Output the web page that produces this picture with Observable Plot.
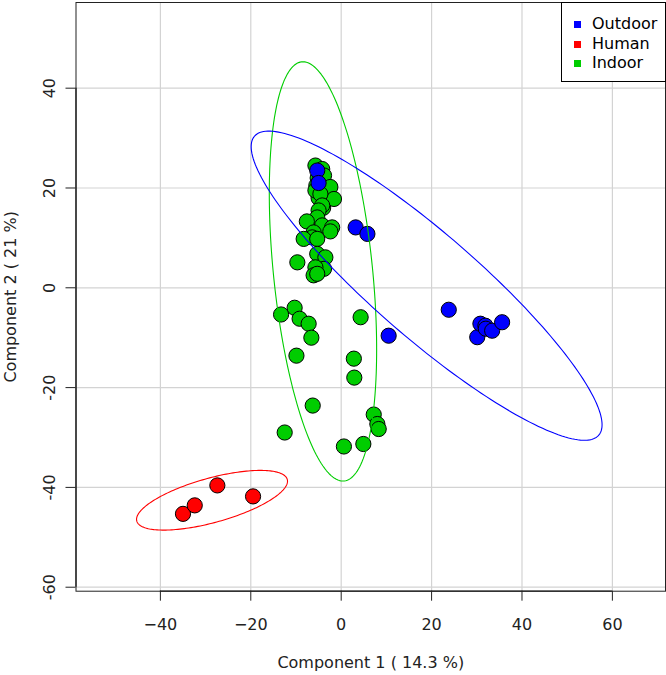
<!DOCTYPE html>
<html><head><meta charset="utf-8">
<script src="https://cdn.jsdelivr.net/npm/d3@7"></script>
<script src="https://cdn.jsdelivr.net/npm/@observablehq/plot@0.6"></script>
<style>
body{margin:0;background:#fff;font-family:"DejaVu Sans",sans-serif;}
#wrap{position:relative;width:666px;height:675px;}
#legend{position:absolute;left:561px;top:2px;width:105px;height:80px;border:1px solid #000;box-sizing:border-box;background:#fff;font-size:16px;color:#000;}
#legend .row{position:absolute;left:0;height:20px;line-height:20px;}
#legend .sw{position:absolute;left:12px;top:7px;width:7px;height:7px;}
#legend .lb{position:absolute;left:30px;top:0;white-space:nowrap;}
</style></head><body><div id="wrap"></div>
<script>
const groups = ["Outdoor", "Human", "Indoor"];
const groupColors = ["#0000FF", "#FF0000", "#00CD00"];

const outdoorX = [-5.3, -5.0, 3.2, 5.8, 10.5, 23.8, 30.1, 30.8, 31.9, 32.0, 33.4, 35.6];
const outdoorY = [23.5, 21.0, 12.1, 10.8, -9.6, -4.4, -9.9, -7.2, -7.6, -8.2, -8.6, -6.9];

const humanX = [-35.0, -32.4, -27.4, -19.5];
const humanY = [-45.3, -43.6, -39.6, -41.8];

const indoorX = [-5.2, -4.8, -5.5, -4.5, -5.0, -4.0,
  -5.7, -4.2, -3.8, -2.4, -1.6, -5.7, -4.6, -4.2, -5.0, -5.3, -7.6, -4.2, -2.0, -2.4, -6.1, -6.4, -8.3, -5.3, -5.3, -3.5, -9.7, -3.8, -5.7, -6.1, -5.3,
  -13.3, -10.3, -9.2, -7.2, -6.6, -9.9, 4.3, 2.8, 2.9, -6.3, 7.2, 8.0, 8.3, -12.5, 0.6, 4.9];
const indoorY = [22.0, 21.5, 20.5, 23.0, 18.0, 16.0,
  24.5, 23.8, 22.5, 20.2, 17.8, 19.5, 18.8, 16.5, 15.5, 14.1, 13.3, 12.5, 12.1, 11.3, 11.1, 10.1, 9.8, 9.8, 6.8, 6.1, 5.1, 3.8, 4.1, 2.5, 2.8,
  -5.35, -4.0, -6.2, -7.2, -10.0, -13.6, -5.9, -14.2, -18.0, -23.6, -25.4, -27.3, -28.3, -29.0, -31.8, -31.3];

const xTicks = [-40, -20, 0, 20, 40, 60];
const yTicks = [-60, -40, -20, 0, 20, 40];
const xDomain = [-58.67, 71.75];
const yDomain = [-60.8, 57.17];
const xTitle = "Component 1 ( 14.3 %)";
const yTitle = "Component 2 ( 21 %)";

const series = [
  {g: "Indoor", xs: indoorX, ys: indoorY},
  {g: "Outdoor", xs: outdoorX, ys: outdoorY},
  {g: "Human", xs: humanX, ys: humanY}
];
const pts = series.flatMap(s => s.xs.map((x, i) => ({group: s.g, x, y: s.ys[i]})));

// 95% confidence ellipse from sample covariance (chi-square, 2 df)
function ellipse(s) {
  const n = s.xs.length;
  const mx = d3.mean(s.xs), my = d3.mean(s.ys);
  let sxx = 0, syy = 0, sxy = 0;
  for (let i = 0; i < n; i++) {
    const dx = s.xs[i] - mx, dy = s.ys[i] - my;
    sxx += dx * dx; syy += dy * dy; sxy += dx * dy;
  }
  sxx /= n - 1; syy /= n - 1; sxy /= n - 1;
  const r = Math.sqrt(5.991464547);
  const a = Math.sqrt(sxx), b = sxy / a, c = Math.sqrt(Math.max(syy - b * b, 0));
  const out = [];
  for (let k = 0; k <= 200; k++) {
    const t = 2 * Math.PI * k / 200;
    out.push({group: s.g, x: mx + r * a * Math.cos(t), y: my + r * (b * Math.cos(t) + c * Math.sin(t))});
  }
  return out;
}
const ell = series.flatMap(ellipse);

const chart = Plot.plot({
  width: 666, height: 675,
  marginLeft: 75.5, marginRight: 1, marginTop: 2, marginBottom: 84.3,
  style: {fontFamily: "DejaVu Sans, sans-serif", background: "#fff"},
  x: {domain: xDomain, axis: null},
  y: {domain: yDomain, axis: null},
  color: {domain: groups, range: groupColors},
  marks: [
    Plot.ruleX(xTicks, {stroke: "#d3d3d3", strokeWidth: 1.2}),
    Plot.ruleY(yTicks, {stroke: "#d3d3d3", strokeWidth: 1.2}),
    Plot.dot(pts, {x: "x", y: "y", r: 7.6, fill: "group", stroke: "#000", strokeWidth: 1}),
    Plot.line(ell, {x: "x", y: "y", z: "group", stroke: "group", strokeWidth: 1.1}),
    Plot.frame({stroke: "#222", strokeWidth: 1}),
    Plot.ruleY([yDomain[0]], {x1: xTicks[0], x2: xTicks[xTicks.length - 1], stroke: "#222", strokeWidth: 1.3}),
    Plot.ruleX([xDomain[0]], {y1: yTicks[0], y2: yTicks[yTicks.length - 1], stroke: "#222", strokeWidth: 1.3}),
    Plot.axisX(xTicks, {anchor: "bottom", tickSize: 10, tickPadding: 17, fontSize: 16, label: null, stroke: "#222", color: "#222"}),
    Plot.axisY(yTicks, {anchor: "left", tickSize: 10, tickFormat: () => "", label: null, stroke: "#222"}),
    Plot.text(yTicks, {y: d => d, text: d => String(d), frameAnchor: "left", dx: -26.4, rotate: -90, textAnchor: "middle", lineAnchor: "middle", fontSize: 16, fill: "#222"}),
    Plot.text([xTitle], {frameAnchor: "bottom", dy: 71.5, text: d => d, textAnchor: "middle", lineAnchor: "middle", fontSize: 16, fill: "#222"}),
    Plot.text([yTitle], {frameAnchor: "left", dx: -65.5, rotate: -90, text: d => d, textAnchor: "middle", lineAnchor: "middle", fontSize: 16, fill: "#222"})
  ]
});
const wrap = document.getElementById("wrap");
wrap.appendChild(chart);

const legend = document.createElement("div");
legend.id = "legend";
groups.forEach((g, i) => {
  const row = document.createElement("div");
  row.className = "row";
  row.style.top = (11 + i * 19.6) + "px";
  const sw = document.createElement("span");
  sw.className = "sw";
  sw.style.background = groupColors[i];
  const lb = document.createElement("span");
  lb.className = "lb";
  lb.textContent = g;
  row.appendChild(sw); row.appendChild(lb);
  legend.appendChild(row);
});
wrap.appendChild(legend);
</script></body></html>
